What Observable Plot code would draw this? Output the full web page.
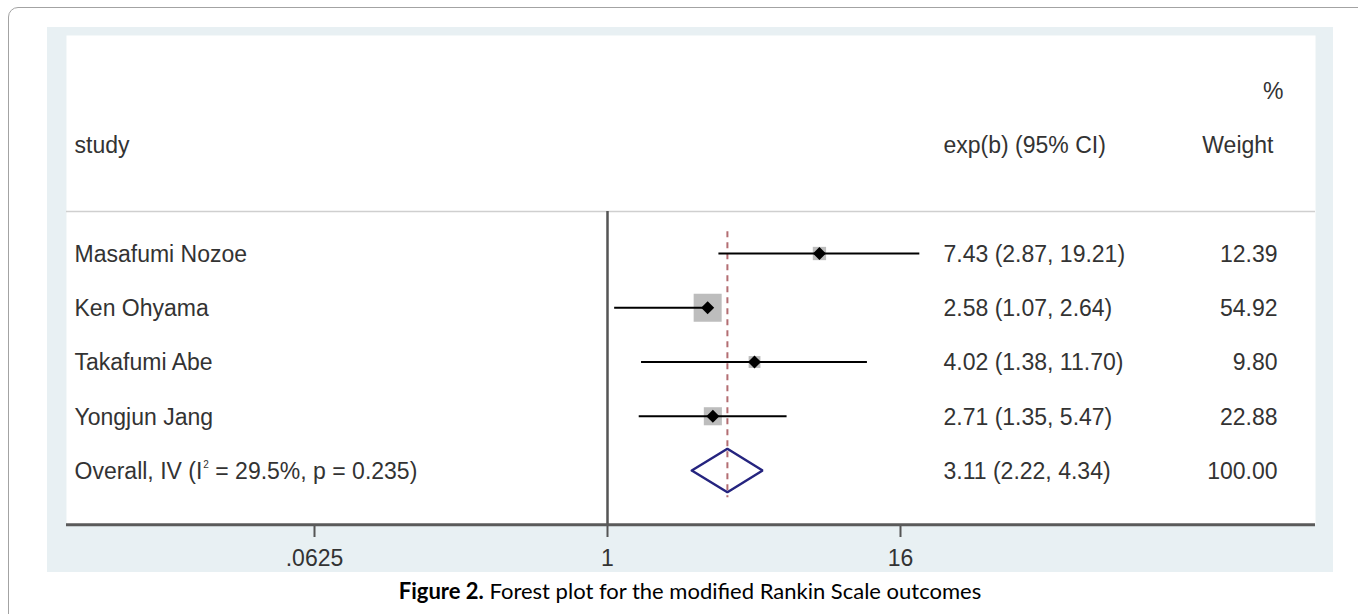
<!DOCTYPE html>
<html>
<head>
<meta charset="utf-8">
<script src="https://cdn.jsdelivr.net/npm/d3@7"></script>
<script src="https://cdn.jsdelivr.net/npm/@observablehq/plot@0.6"></script>
<style>
  html, body { margin: 0; padding: 0; background: #fff; overflow: hidden; width: 1358px; height: 614px; }
  #outer { position: absolute; left: 8px; top: 7px; width: 1420px; height: 700px; border: 1.5px solid #a3a3a3; border-radius: 10px; box-sizing: border-box; }
  #panel { position: absolute; left: 47px; top: 27px; width: 1286px; height: 545px; background: #e8f0f3; }
  #panel svg { display: block; }
  #caption { position: absolute; left: 47px; width: 1286px; top: 578px; text-align: center; font-family: Lato, "Open Sans", sans-serif; font-size: 22px; line-height: 26px; color: #000; white-space: nowrap; }
  #caption b { font-weight: 700; }
</style>
</head>
<body>
<div id="outer"></div>
<div id="panel"></div>
<div id="caption"><b>Figure 2.</b> Forest plot for the modified Rankin Scale outcomes</div>
<script>
// ---- data ----
const studies = ["Masafumi Nozoe", "Ken Ohyama", "Takafumi Abe", "Yongjun Jang"];
const estimates = [7.43, 2.58, 4.02, 2.71];
const lowerCI = [2.87, 1.07, 1.38, 1.35];
const upperCI = [19.21, 2.64, 11.70, 5.47];
const weights = [12.39, 54.92, 9.80, 22.88];
const overallLabel = "Overall, IV (I\u00B2 = 29.5%, p = 0.235)";
const overallEstimate = [3.11, 2.22, 4.34]; // estimate, lower, upper
const overallWeight = 100.00;
const tickValues = [0.0625, 1, 16];
const tickLabels = [".0625", "1", "16"];
const headerTitles = ["study", "exp(b) (95% CI)", "Weight", "%"];

// ---- table built from the arrays ----
const rows = studies.map((name, i) => ({
  row: i, name, est: estimates[i], lo: lowerCI[i], hi: upperCI[i], w: weights[i]
}));
const overallRow = studies.length;
const [oEst, oLo, oHi] = overallEstimate;
const fmt = d3.format(".2f");
const estText = (e, l, h) => `${fmt(e)} (${fmt(l)}, ${fmt(h)})`;
const allRows = [
  ...rows.map(d => ({row: d.row, label: d.name, ci: estText(d.est, d.lo, d.hi), w: fmt(d.w)})),
  {row: overallRow, label: overallLabel, ci: estText(oEst, oLo, oHi), w: fmt(overallWeight)}
];
const dh = 0.4; // half height of pooled diamond, in rows
const diamond = [
  {x: oLo, y: overallRow}, {x: oEst, y: overallRow - dh},
  {x: oHi, y: overallRow}, {x: oEst, y: overallRow + dh}, {x: oLo, y: overallRow}
];
const headerRuleRow = -0.775;

const FS = 23;
const txt = "#333";

const plot = Plot.plot({
  width: 1286,
  height: 545,
  marginLeft: 19,
  marginRight: 18,
  marginTop: 8,
  marginBottom: 48,
  style: {fontFamily: "'Liberation Sans', Arial, sans-serif", fontSize: FS + "px", background: "transparent", overflow: "visible"},
  x: {type: "log", base: 2, domain: [tickValues[0], tickValues[2]], range: [267, 853]},
  y: {type: "linear", domain: [0, overallRow], range: [226, 443], axis: null},
  r: {range: [0, 15.8]},
  marks: [
    Plot.frame({fill: "white", stroke: "none"}),
    Plot.ruleY([headerRuleRow], {stroke: "#cfcfcf", strokeWidth: 1.5}),
    Plot.ruleX([1], {insetTop: 176, stroke: "#555", strokeWidth: 2.5}),
    Plot.ruleX([oEst], {y1: -0.4, y2: overallRow + 0.5, stroke: "#b36d72", strokeWidth: 2, strokeDasharray: "6,5"}),
    Plot.dot(rows, {x: "est", y: "row", r: "w", symbol: "square", fill: "#bdbdbd", stroke: "none"}),
    Plot.ruleY(rows, {y: "row", x1: "lo", x2: "hi", stroke: "#000", strokeWidth: 2}),
    Plot.dot(rows, {x: "est", y: "row", r: 5.2, symbol: "square", rotate: 45, fill: "#000", stroke: "none"}),
    Plot.line(diamond, {x: "x", y: "y", stroke: "#25247f", strokeWidth: 2.5, strokeLinejoin: "miter"}),
    // columns
    Plot.text(allRows, {y: "row", text: "label", frameAnchor: "left", dx: 8, textAnchor: "start", fill: txt, dy: 1}),
    Plot.text(allRows, {y: "row", text: "ci", frameAnchor: "right", dx: -372, textAnchor: "start", fill: txt, dy: 1}),
    Plot.text(allRows, {y: "row", text: "w", frameAnchor: "right", dx: -38, textAnchor: "end", fill: txt, dy: 1}),
    // headers
    Plot.text([headerTitles[0]], {y: -2, text: d => d, frameAnchor: "left", dx: 8, textAnchor: "start", fill: txt, dy: 1}),
    Plot.text([headerTitles[1]], {y: -2, text: d => d, frameAnchor: "right", dx: -372, textAnchor: "start", fill: txt, dy: 1}),
    Plot.text([headerTitles[2]], {y: -2, text: d => d, frameAnchor: "right", dx: -42, textAnchor: "end", fill: txt, dy: 1}),
    Plot.text([headerTitles[3]], {y: -3, text: d => d, frameAnchor: "right", dx: -32, textAnchor: "end", fill: txt, dy: 1}),
    // axis
    Plot.axisX({ticks: tickValues, tickFormat: d => tickLabels[tickValues.indexOf(d)], tickSize: 13, tickPadding: 12, stroke: "#555", strokeWidth: 2, fill: txt, fontSize: FS, label: null}),
    Plot.ruleY([overallRow + 1], {stroke: "#5a5a5a", strokeWidth: 3})
  ]
});
document.getElementById("panel").appendChild(plot);

// render the I² as a small raised superscript, as in the original
plot.querySelectorAll("text").forEach(t => {
  const s = t.textContent;
  const k = s.indexOf("\u00B2");
  if (k < 0 || t.children.length) return;
  const ns = "http://www.w3.org/2000/svg";
  t.textContent = "";
  const a = document.createElementNS(ns, "tspan"); a.textContent = s.slice(0, k);
  const b = document.createElementNS(ns, "tspan"); b.textContent = "2";
  b.setAttribute("font-size", "10"); b.setAttribute("dy", "-11"); b.setAttribute("dx", "1");
  const c = document.createElementNS(ns, "tspan"); c.textContent = s.slice(k + 1);
  c.setAttribute("dy", "11");
  t.append(a, b, c);
});
</script>
</body>
</html>
